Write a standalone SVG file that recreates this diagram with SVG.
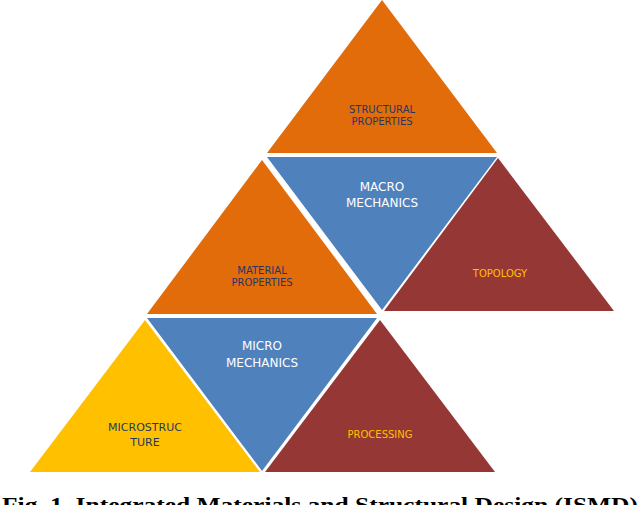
<svg xmlns="http://www.w3.org/2000/svg" width="640" height="505" viewBox="0 0 640 505">
<style>
.o{fill:#e36c0a}.b{fill:#4f81bd}.r{fill:#953735}.y{fill:#ffc000}
.t{font-family:"DejaVu Sans",Verdana,sans-serif;font-size:10px;text-anchor:middle}
.tb{font-family:"DejaVu Sans",Verdana,sans-serif;font-size:12px;text-anchor:middle;fill:#fff}
.dk{fill:#1f3864}.yl{fill:#ffc000}
</style>
<rect width="640" height="505" fill="#fff"/>
<g id="structural"><polygon class="o" points="382,0 267,153 497,153"/><text class="t dk" x="382" y="113">STRUCTURAL</text><text class="t dk" x="382" y="125">PROPERTIES</text></g>
<g id="macro"><polygon class="b" points="267,157 497,157 382,310"/><text class="tb" x="382" y="191">MACRO</text><text class="tb" x="382" y="207">MECHANICS</text></g>
<g id="topology"><polygon class="r" points="498,158 384,311 614,311"/><text class="t yl" x="500" y="277">TOPOLOGY</text></g>
<g id="material"><polygon class="o" points="262,160 147,314 377,314"/><text class="t dk" x="262" y="274">MATERIAL</text><text class="t dk" x="262" y="286">PROPERTIES</text></g>
<g id="micro"><polygon class="b" points="147,318 377,318 262,471"/><text class="tb" x="262" y="350">MICRO</text><text class="tb" x="262" y="367">MECHANICS</text></g>
<g id="microstructure"><polygon class="y" points="145,320 30,472 260,472"/><text class="t dk" x="145" y="431" style="font-size:11px">MICROSTRUC</text><text class="t dk" x="145" y="446" style="font-size:11px">TURE</text></g>
<g id="processing"><polygon class="r" points="380,320 265,472 495,472"/><text class="t yl" x="380" y="438">PROCESSING</text></g>
<g id="connectors"/>
<text x="2" y="512" font-family="Liberation Serif,'Times New Roman',serif" font-weight="bold" font-size="21" textLength="636" lengthAdjust="spacingAndGlyphs">Fig. 1. Integrated Materials and Structural Design (ISMD)</text>
</svg>
